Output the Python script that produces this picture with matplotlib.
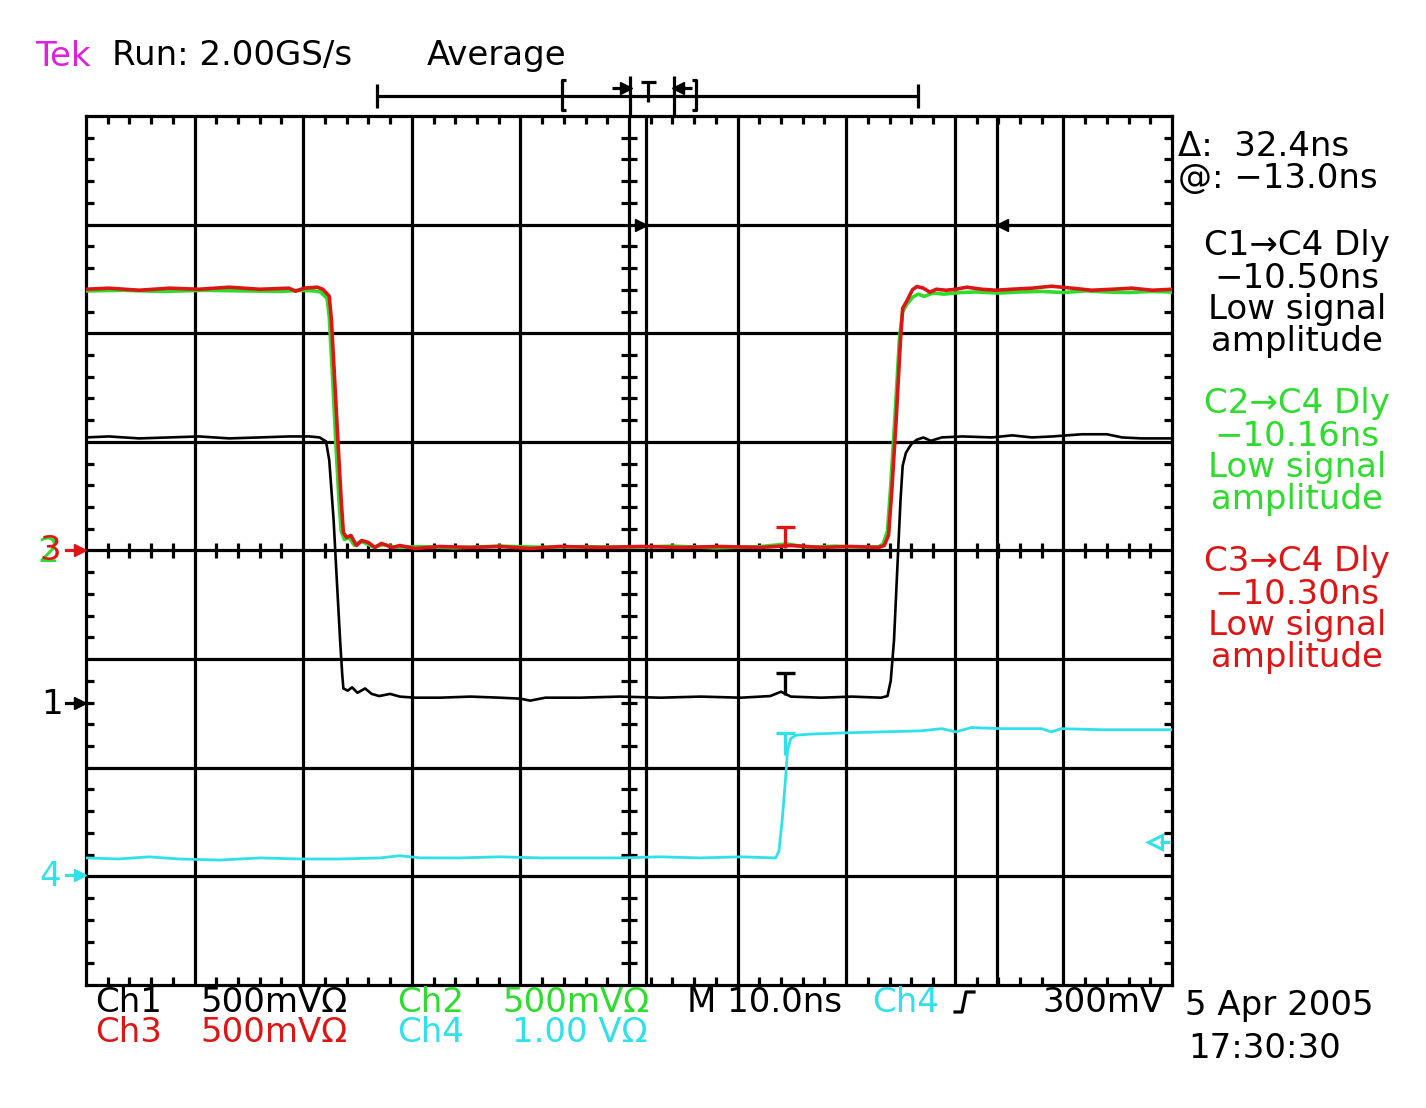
import numpy as np
import matplotlib
matplotlib.use("Agg")
import matplotlib.pyplot as plt
from matplotlib.ticker import MultipleLocator

# ---------------- data (time in ns, amplitude in divisions) ----------------
ch3_t = [-50, -47.9, -45.1, -42.3, -39.6, -36.8, -34.0, -31.3, -30.7, -29.9, -28.7, -28.2,
         -27.6, -27.4, -27.1, -26.8, -26.5, -26.3, -26.0, -25.6, -25.1, -24.6, -24.0, -23.4,
         -22.8, -21.8, -21.1, -19.7, -17.4, -14.6, -11.9, -9.1, -6.4, -2.6, 1.1, 4.8, 8.4,
         12.1, 14.9, 17.7, 20.5, 23.0, 23.5, 23.9, 24.2, 24.6, 25.0, 25.2, 25.6, 26.1, 26.5,
         27.1, 27.7, 28.3, 29.2, 30.1, 31.1, 32.5, 33.8, 35.2, 37.1, 38.9, 40.8, 42.6, 44.5,
         46.3, 48.2, 50]
ch3_v = [2.405, 2.415, 2.396, 2.415, 2.405, 2.424, 2.405, 2.415, 2.387, 2.415, 2.424, 2.405,
         2.341, 2.12, 1.567, 1.005, 0.461, 0.166, 0.12, 0.138, 0.046, 0.092, 0.074, 0.028,
         0.065, 0.028, 0.046, 0.018, 0.037, 0.028, 0.037, 0.018, 0.037, 0.028, 0.037, 0.028,
         0.037, 0.028, 0.046, 0.028, 0.037, 0.028, 0.046, 0.14, 0.55, 1.2, 1.94, 2.23, 2.30,
         2.40, 2.43, 2.415, 2.378, 2.405, 2.396, 2.405, 2.424, 2.405, 2.396, 2.405, 2.415,
         2.433, 2.415, 2.396, 2.405, 2.415, 2.396, 2.405]

ch2_t = [-50, -46.5, -43.0, -39.0, -35.5, -32.0, -30.5, -29.0, -28.4, -27.8, -27.6, -27.3,
         -27.0, -26.7, -26.5, -26.2, -25.8, -25.3, -24.7, -24.1, -23.5, -22.6, -21.5, -19.0,
         -16.0, -12.0, -8.0, -4.0, 0.0, 4.0, 8.0, 12.0, 14.5, 16.5, 19.0, 21.5, 23.0, 23.4,
         23.8, 24.1, 24.5, 24.9, 25.2, 25.6, 26.1, 26.6, 27.2, 28.0, 29.0, 30.5, 32.0, 34.0,
         36.0, 38.0, 40.0, 42.0, 44.0, 46.0, 48.0, 50]
ch2_v = [2.39, 2.395, 2.385, 2.395, 2.39, 2.385, 2.395, 2.39, 2.38, 2.32, 2.15, 1.6,
         1.0, 0.45, 0.18, 0.10, 0.12, 0.05, 0.085, 0.06, 0.03, 0.055, 0.03, 0.035,
         0.025, 0.04, 0.03, 0.035, 0.03, 0.04, 0.025, 0.035, 0.06, 0.03, 0.04, 0.03, 0.035, 0.06,
         0.18, 0.6, 1.25, 1.95, 2.2, 2.27, 2.33, 2.36, 2.34, 2.37, 2.36, 2.375, 2.38, 2.37,
         2.38, 2.385, 2.375, 2.39, 2.38, 2.375, 2.385, 2.38]

ch1_t = [-50, -47.9, -45.1, -42.3, -39.6, -36.8, -34.0, -31.3, -29.4, -28.5, -27.9, -27.6,
         -27.2, -26.9, -26.6, -26.4, -26.3, -25.9, -25.5, -25.0, -24.3, -23.7, -23.0, -22.0,
         -21.1, -19.7, -17.4, -14.6, -11.9, -10.0, -9.1, -7.7, -4.5, -0.8, 2.9, 6.6, 10.3,
         13.0, 14.0, 14.9, 17.7, 20.5, 23.2, 23.8, 24.1, 24.4, 24.7, 25.0, 25.2, 25.5, 26.0,
         26.5, 27.1, 27.8, 28.8, 30.7, 33.4, 35.3, 37.1, 39.0, 41.7, 44.0, 45.4, 47.2, 50]
ch1_v = [1.041, 1.05, 1.032, 1.041, 1.05, 1.032, 1.041, 1.05, 1.05, 1.041, 1.005, 0.83,
         0.28, -0.28, -0.83, -1.15, -1.27, -1.29, -1.26, -1.31, -1.27, -1.32, -1.34, -1.32,
         -1.345, -1.355, -1.355, -1.345, -1.355, -1.364, -1.382, -1.355, -1.355, -1.345,
         -1.355, -1.345, -1.355, -1.34, -1.30, -1.345, -1.355, -1.345, -1.355, -1.34, -1.2,
         -0.83, -0.18, 0.46, 0.78, 0.90, 0.98, 1.02, 1.04, 1.01, 1.041, 1.05, 1.041, 1.06,
         1.041, 1.05, 1.07, 1.07, 1.041, 1.032, 1.032]

ch4_t = [-50, -47.0, -44.2, -41.4, -37.7, -34.0, -30.3, -26.6, -22.9, -21.1, -19.2, -15.5,
         -11.9, -8.2, -4.5, -0.8, 2.9, 6.6, 10.3, 13.5, 13.8, 14.1, 14.4, 14.6, 14.9, 15.4,
         16.8, 19.5, 23.2, 26.9, 28.8, 30.1, 31.5, 34.3, 38.0, 38.9, 39.8, 43.5, 50]
ch4_v = [-2.83, -2.84, -2.82, -2.84, -2.85, -2.83, -2.84, -2.84, -2.83, -2.81, -2.83, -2.83,
         -2.82, -2.83, -2.83, -2.83, -2.82, -2.83, -2.82, -2.83, -2.77, -2.49, -2.12, -1.84,
         -1.73, -1.70, -1.69, -1.68, -1.67, -1.66, -1.64, -1.67, -1.63, -1.64, -1.64, -1.67,
         -1.64, -1.65, -1.65]

cursor_t = [1.52, 33.9]
trig_t = 14.4
trig_marks_v = [0.22, -1.13, -1.68]  # top of the T markers for ch3, ch1, ch4
trig_level_v = -2.68

header = ["Tek", "Run: 2.00GS/s", "Average"]
meas = ["\u0394:  32.4ns", "@: \u221213.0ns"]
dly_blocks = [["C1\u2192C4 Dly", "\u221210.50ns", "Low signal", "amplitude"],
              ["C2\u2192C4 Dly", "\u221210.16ns", "Low signal", "amplitude"],
              ["C3\u2192C4 Dly", "\u221210.30ns", "Low signal", "amplitude"]]

# ---------------- style ----------------
RED = "#dd1515"
GREEN = "#2ddc2d"
CYAN = "#30e0ea"
MAG = "#dd22dd"
BLK = "black"
FS = 24.5
plt.rcParams["font.family"] = ["DejaVu Sans"]

W, H = 1426, 1108
fig = plt.figure(figsize=(W / 100, H / 100), dpi=100)
L, R, T, B = 86, 1172, 116, 985
ax = fig.add_axes([L / W, 1 - B / H, (R - L) / W, (B - T) / H])
ax.set_xlim(-50, 50)
ax.set_ylim(-4, 4)

GLW = 2.3
for s in ax.spines.values():
    s.set_linewidth(GLW)
for x in np.arange(-40, 50, 10):
    ax.axvline(x, color=BLK, lw=GLW, zorder=1)
for y in np.arange(-3, 4, 1):
    ax.axhline(y, color=BLK, lw=GLW, zorder=1)
for c in cursor_t:
    ax.axvline(c, color=BLK, lw=GLW, zorder=1)

ax.xaxis.set_major_locator(MultipleLocator(10))
ax.yaxis.set_major_locator(MultipleLocator(1))
ax.xaxis.set_minor_locator(MultipleLocator(2))
ax.yaxis.set_minor_locator(MultipleLocator(0.2))
ax.tick_params(which="both", direction="in", top=True, right=True, bottom=True, left=True,
               labelbottom=False, labelleft=False)
ax.tick_params(which="major", length=0)
ax.tick_params(which="minor", length=5.5, width=GLW)

# centre crosshair ticks
xt = [x for x in np.arange(-48, 49, 2) if x % 10 != 0]
yt = [y for y in np.round(np.arange(-3.8, 3.9, 0.2), 2) if abs(y - round(y)) > 1e-6]
ax.vlines(xt, -0.07, 0.07, color=BLK, lw=GLW, zorder=1)
ax.hlines(yt, -0.7, 0.7, color=BLK, lw=GLW, zorder=1)

# cursor arrows
ax.plot([cursor_t[0] - 0.45], [3.0], marker=">", ms=9, color=BLK, zorder=3, clip_on=False)
ax.plot([cursor_t[1] + 0.45], [3.0], marker="<", ms=9, color=BLK, zorder=3, clip_on=False)

# traces
ax.plot(ch2_t, ch2_v, color=GREEN, lw=2.6, zorder=4)
ax.plot(ch3_t, ch3_v, color=RED, lw=2.6, zorder=5)
ax.plot(ch1_t, ch1_v, color=BLK, lw=1.9, zorder=4)
ax.plot(ch4_t, ch4_v, color=CYAN, lw=2.0, zorder=4)

# trigger T markers
for v, col in zip(trig_marks_v, [RED, BLK, CYAN]):
    ax.hlines(v, trig_t - 0.85, trig_t + 0.85, color=col, lw=2.4, zorder=6)
    ax.vlines(trig_t, v - 0.2, v, color=col, lw=2.4, zorder=6)

# trigger level marker on the right
ax.plot([48.4], [trig_level_v], marker="<", ms=10, mfc="white", mec=CYAN, mew=2.2,
        color=CYAN, zorder=6)
ax.hlines(trig_level_v, 48.9, 49.8, color=CYAN, lw=2.2, zorder=6)

# ---------------- overlay in pixel coordinates ----------------
ov = fig.add_axes([0, 0, 1, 1], zorder=10)
ov.set_xlim(0, W)
ov.set_ylim(H, 0)
ov.axis("off")
ov.patch.set_alpha(0)

# header
ov.text(35, 56, header[0], color=MAG, fontsize=FS, ha="left", va="center")
ov.text(112, 56, header[1], color=BLK, fontsize=FS, ha="left", va="center")
ov.text(427, 56, header[2], color=BLK, fontsize=FS, ha="left", va="center")

# record bar
lk = dict(color=BLK, lw=2.3, solid_capstyle="butt")
ov.plot([377, 918], [96, 96], **lk)
ov.plot([377, 377], [84, 108], **lk)
ov.plot([918, 918], [84, 108], **lk)
ov.plot([566, 562, 562, 566], [80, 80, 110, 110], **lk)
ov.plot([692, 696, 696, 692], [80, 80, 110, 110], **lk)
ov.plot([630, 630], [76, 116], **lk)
ov.plot([674, 674], [76, 116], **lk)
ov.plot([612, 624], [88, 88], **lk)
ov.plot([626], [88], marker=">", ms=8, color=BLK)
ov.plot([678], [88], marker="<", ms=8, color=BLK)
ov.plot([680, 692], [88, 88], **lk)
ov.plot([641, 656], [82, 82], **lk)
ov.plot([648, 648], [82, 102], **lk)

# left reference markers (green "2" sits just beneath the red "3")
ov.text(48, 553, "2", color=GREEN, fontsize=FS, ha="center", va="center")
ov.text(50, 551, "3", color=RED, fontsize=FS, ha="center", va="center")
ov.text(52, 704, "1", color=BLK, fontsize=FS, ha="center", va="center")
ov.text(50, 876, "4", color=CYAN, fontsize=FS, ha="center", va="center")
for y, col in [(550, RED), (703, BLK), (875, CYAN)]:
    ov.plot([66, 78], [y, y], color=col, lw=2.3)
    ov.plot([80], [y], marker=">", ms=8, color=col)

# right measurement text
ov.text(1178, 146, meas[0], color=BLK, fontsize=FS, ha="left", va="center")
ov.text(1178, 178, meas[1], color=BLK, fontsize=FS, ha="left", va="center")
for blk, col, y0 in zip(dly_blocks, [BLK, GREEN, RED], [246, 404, 562]):
    for i, s in enumerate(blk):
        ov.text(1297, y0 + 32 * i, s, color=col, fontsize=FS, ha="center", va="center")

# bottom status line
y1, y2 = 1002, 1033
ov.text(95, y1, "Ch1", color=BLK, fontsize=FS, ha="left", va="center")
ov.text(200, y1, "500mV\u03a9", color=BLK, fontsize=FS, ha="left", va="center")
ov.text(397, y1, "Ch2", color=GREEN, fontsize=FS, ha="left", va="center")
ov.text(502, y1, "500mV\u03a9", color=GREEN, fontsize=FS, ha="left", va="center")
ov.text(687, y1, "M 10.0ns", color=BLK, fontsize=FS, ha="left", va="center")
ov.text(872, y1, "Ch4", color=CYAN, fontsize=FS, ha="left", va="center")
ov.plot([955, 962, 966, 974], [1012, 1012, 992, 992], color=BLK, lw=2.3)
ov.text(1042, y1, "300mV", color=BLK, fontsize=FS, ha="left", va="center")
ov.text(95, y2, "Ch3", color=RED, fontsize=FS, ha="left", va="center")
ov.text(200, y2, "500mV\u03a9", color=RED, fontsize=FS, ha="left", va="center")
ov.text(397, y2, "Ch4", color=CYAN, fontsize=FS, ha="left", va="center")
ov.text(512, y2, "1.00 V\u03a9", color=CYAN, fontsize=FS, ha="left", va="center")
ov.text(1185, 1006, "5 Apr 2005", color=BLK, fontsize=FS, ha="left", va="center")
ov.text(1188, 1049, "17:30:30", color=BLK, fontsize=FS, ha="left", va="center")

fig.savefig("out.png", dpi=100, facecolor="white")
